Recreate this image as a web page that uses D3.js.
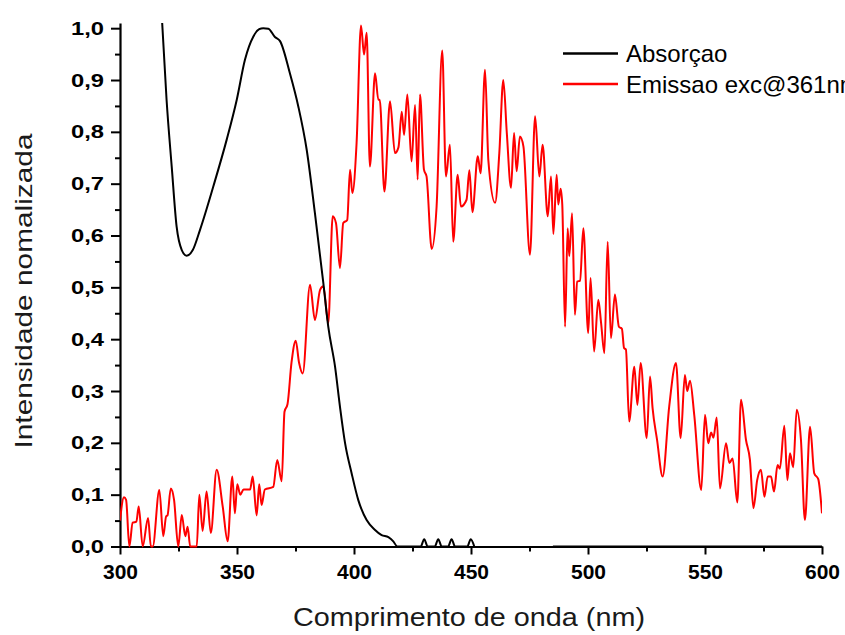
<!DOCTYPE html>
<html>
<head>
<meta charset="utf-8">
<script src="https://cdn.jsdelivr.net/npm/d3@7"></script>
<style>
  body { margin: 0; background: #fff; }
  svg { display: block; }
  text { font-family: "Liberation Sans", Arial, sans-serif; }
</style>
</head>
<body>
<div id="chart"></div>
<script>
// absorption spectrum (null = gap in the trace)
var absWl  = [318, 319.9, 322.1, 324.2, 326.4, 328.5, 331.1, 334.2, 339.9, 345.6, 349.9, 353.4, 357, 359.5, 361.2, 363.4, 366.2, 368.4, 372.6, 376.2, 379.8, 383.3, 386.9, 389, 391.9, 394, 396.2, 399, 401.8, 405.4, 409, 411.8, 414.7, 416.8, 418.5, 428.5, 430, 431.5, 434.5, 436, 437.5, 440.2, 441.7, 443.2, 448.4, 449.9, 451.4, 468, 485, 600];
var absVal = [1.012, 0.862, 0.733, 0.617, 0.572, 0.561, 0.572, 0.611, 0.695, 0.785, 0.862, 0.939, 0.984, 0.998, 1.0, 0.999, 0.983, 0.975, 0.913, 0.849, 0.765, 0.643, 0.508, 0.424, 0.347, 0.27, 0.199, 0.141, 0.09, 0.051, 0.032, 0.022, 0.018, 0.01, 0, 0, 0.014, 0, 0, 0.014, 0, 0, 0.014, 0, 0, 0.014, 0, null, 0, 0];

// emission spectrum, excitation at 361 nm
var emWl  = [300, 301.7, 302.6, 304, 305.4, 307, 308, 309.7, 312, 313.2, 314, 316.8, 318.5, 319.7, 320.3, 321.7, 323.1, 324.9, 326.4, 327.9, 328.9, 330, 332.8, 333.9, 335.3, 337, 338.8, 341.3, 343.9, 346, 348, 349.1, 350.1, 351.4, 352.8, 355.6, 356.7, 358.4, 359.5, 360.5, 361.9, 365.5, 367.2, 369.1, 370.3, 371.6, 373.3, 375.1, 376.5, 378.1, 381.2, 383.3, 385.5, 386.9, 389, 390.9, 392.3, 394, 395.4, 397.1, 398.3, 399.3, 401.1, 403, 404.3, 405.4, 406.8, 409, 410.4, 411, 413, 415.4, 417.5, 419, 420.4, 421.4, 422.8, 424.6, 426.1, 427.2, 428.2, 429.9, 431, 433.2, 435.3, 437.7, 439.3, 441, 442.4, 444.3, 445.7, 448.1, 449.3, 450.6, 452.9, 454.1, 456, 457.4, 460.3, 462.1, 463.8, 465.3, 467.1, 468.4, 469.5, 470.9, 472.4, 475.2, 477.4, 479.2, 480.6, 482.8, 484.2, 485.2, 486.6, 487.3, 488.3, 489, 490.2, 491.3, 492, 493.2, 494.4, 495.4, 496.6, 498, 500.1, 501.1, 502.6, 504.4, 505.6, 507, 508.4, 509.8, 511.5, 513.2, 514.5, 515.4, 516.2, 517.6, 519.8, 521.1, 522.5, 525.1, 526.5, 527.6, 529.5, 531.9, 534.7, 537.6, 539.6, 541.4, 542.4, 543.6, 545.4, 548.4, 550, 551.4, 552.6, 553.6, 555, 556.4, 559, 560.4, 561.8, 563.8, 565.4, 567.5, 569.2, 570.7, 572.3, 573.9, 575.4, 576.8, 578.2, 579.5, 581, 582, 583.9, 585.2, 586.3, 587.7, 589.2, 591, 592.7, 594.9, 596.7, 598.4, 600];
var emVal = [0.05, 0.095, 0.09, 0, 0.046, 0.048, 0.077, 0, 0.055, 0, 0, 0.109, 0.02, 0.058, 0.06, 0.112, 0.09, 0, 0.061, 0.02, 0.038, 0, 0, 0.1, 0.03, 0.106, 0.026, 0.148, 0.077, 0.01, 0.135, 0.064, 0.12, 0.1, 0.11, 0.11, 0.135, 0.06, 0.12, 0.08, 0.11, 0.115, 0.167, 0.126, 0.26, 0.275, 0.355, 0.397, 0.355, 0.334, 0.505, 0.437, 0.495, 0.502, 0.431, 0.637, 0.624, 0.537, 0.624, 0.63, 0.727, 0.682, 0.778, 1.005, 0.949, 0.991, 0.733, 0.913, 0.862, 0.862, 0.685, 0.859, 0.759, 0.77, 0.839, 0.794, 0.872, 0.743, 0.852, 0.708, 0.872, 0.727, 0.714, 0.574, 0.656, 0.957, 0.714, 0.775, 0.588, 0.717, 0.656, 0.669, 0.726, 0.645, 0.753, 0.72, 0.92, 0.746, 0.663, 0.759, 0.9, 0.798, 0.692, 0.798, 0.724, 0.791, 0.772, 0.563, 0.83, 0.714, 0.775, 0.637, 0.714, 0.603, 0.717, 0.66, 0.69, 0.66, 0.424, 0.614, 0.56, 0.643, 0.447, 0.511, 0.513, 0.614, 0.412, 0.518, 0.376, 0.476, 0.431, 0.373, 0.588, 0.402, 0.486, 0.424, 0.42, 0.383, 0.38, 0.241, 0.347, 0.273, 0.354, 0.209, 0.328, 0.267, 0.206, 0.135, 0.27, 0.354, 0.209, 0.331, 0.3, 0.32, 0.254, 0.109, 0.254, 0.199, 0.22, 0.21, 0.249, 0.112, 0.199, 0.161, 0.17, 0.085, 0.283, 0.206, 0.167, 0.074, 0.128, 0.148, 0.096, 0.135, 0.135, 0.106, 0.157, 0.15, 0.233, 0.128, 0.18, 0.153, 0.264, 0.206, 0.051, 0.231, 0.141, 0.13, 0.064];

var xTicks = [300, 350, 400, 450, 500, 550, 600];
var yTicks = [0, 0.1, 0.2, 0.3, 0.4, 0.5, 0.6, 0.7, 0.8, 0.9, 1.0];
var seriesNames = ["Absorçao", "Emissao exc@361nm"];
var seriesColors = ["#000000", "#ff0000"];

var W = 845, H = 635;
var x = d3.scaleLinear().domain([300, 600]).range([120, 822]);
var y = d3.scaleLinear().domain([0, 1.01]).range([546.5, 23]);

var svg = d3.select("#chart").append("svg")
  .attr("width", W).attr("height", H);

svg.append("defs").append("clipPath").attr("id", "plot")
  .append("rect").attr("x", 120).attr("y", 23).attr("width", 702).attr("height", 530);

var comma = function(v) { return d3.format(".1f")(v).replace(".", ","); };

// minor ticks first, majors drawn over them
svg.append("g")
  .attr("transform", "translate(0," + y(0) + ")")
  .call(d3.axisBottom(x).tickValues(d3.range(325, 600, 50)).tickSize(5).tickFormat(""))
  .call(g => g.select(".domain").remove())
  .selectAll("line").attr("stroke-width", 2);
svg.append("g")
  .attr("transform", "translate(" + x(300) + ",0)")
  .call(d3.axisLeft(y).tickValues(d3.range(0.05, 1.0, 0.1)).tickSize(5).tickFormat(""))
  .call(g => g.select(".domain").remove())
  .selectAll("line").attr("stroke-width", 2);

var xAxis = svg.append("g")
  .attr("transform", "translate(0," + y(0) + ")")
  .call(d3.axisBottom(x).tickValues(xTicks).tickSize(8).tickSizeOuter(0).tickPadding(10).tickFormat(d3.format("d")));
var yAxis = svg.append("g")
  .attr("transform", "translate(" + x(300) + ",0)")
  .call(d3.axisLeft(y).tickValues(yTicks).tickSize(9).tickSizeOuter(0).tickPadding(7).tickFormat(comma));

[xAxis, yAxis].forEach(function(g) {
  g.select(".domain").attr("stroke-width", 2.2);
  g.selectAll("line").attr("stroke-width", 2);
  g.selectAll("text")
    .attr("font-size", 21).attr("font-weight", "bold")
    .attr("font-family", "'Liberation Sans', Arial, sans-serif")
    .attr("fill", "#000");
});
yAxis.selectAll("text")
  .attr("font-size", 19)
  .attr("textLength", 33).attr("lengthAdjust", "spacingAndGlyphs");

var absData = absWl.map((w, i) => ({ w: w, v: absVal[i] }));
var emData = emWl.map((w, i) => ({ w: w, v: emVal[i] }));

var plot = svg.append("g").attr("clip-path", "url(#plot)");

plot.append("path")
  .datum(emData)
  .attr("fill", "none")
  .attr("stroke", seriesColors[1])
  .attr("stroke-width", 2)
  .attr("stroke-linejoin", "round")
  .attr("d", d3.line().x(d => x(d.w)).y(d => y(d.v)).curve(d3.curveMonotoneX));

plot.append("path")
  .datum(absData)
  .attr("fill", "none")
  .attr("stroke", seriesColors[0])
  .attr("stroke-width", 2)
  .attr("stroke-linejoin", "round")
  .attr("d", d3.line().defined(d => d.v !== null).x(d => x(d.w)).y(d => y(d.v)).curve(d3.curveMonotoneX));

// legend
var legend = svg.append("g");
seriesNames.forEach(function(name, i) {
  var ly = 53.5 + i * 30.5;
  legend.append("line")
    .attr("x1", 563).attr("x2", 618).attr("y1", ly).attr("y2", ly)
    .attr("stroke", seriesColors[i]).attr("stroke-width", 2.5);
  legend.append("text")
    .attr("x", 626).attr("y", ly + 8.5)
    .attr("font-size", 24).attr("fill", "#000")
    .text(name);
});

// axis titles
svg.append("text")
  .attr("x", 469).attr("y", 626)
  .attr("text-anchor", "middle")
  .attr("font-size", 25).attr("fill", "#1a1a1a")
  .attr("textLength", 352).attr("lengthAdjust", "spacingAndGlyphs")
  .text("Comprimento de onda (nm)");
svg.append("text")
  .attr("transform", "translate(32,291) rotate(-90)")
  .attr("text-anchor", "middle")
  .attr("font-size", 24).attr("fill", "#1a1a1a")
  .attr("textLength", 315).attr("lengthAdjust", "spacingAndGlyphs")
  .text("Intensidade nomalizada");
</script>
</body>
</html>
